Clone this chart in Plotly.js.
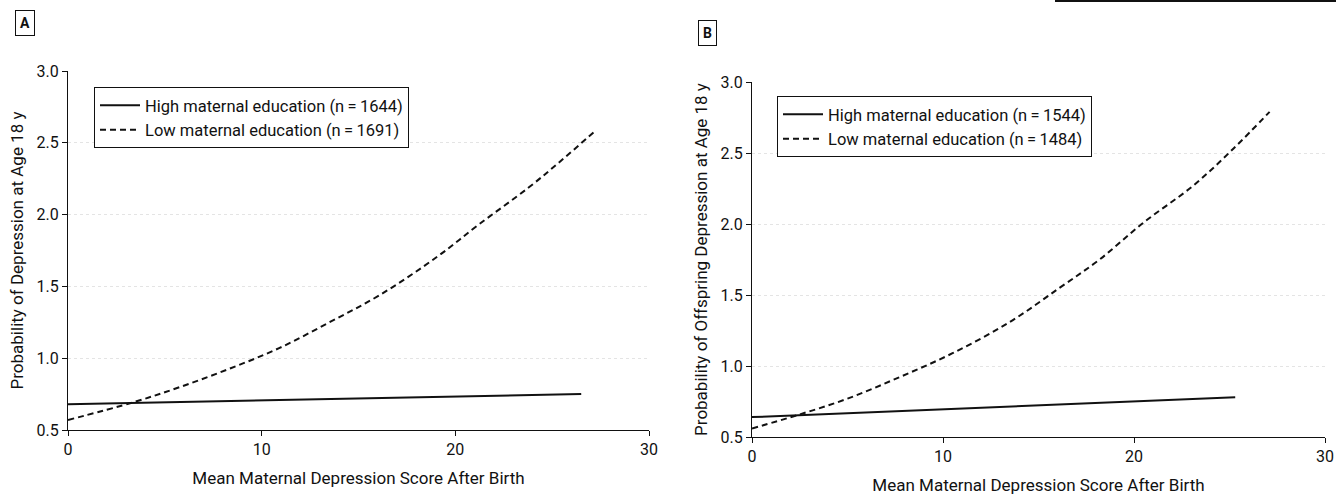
<!DOCTYPE html>
<html>
<head>
<meta charset="utf-8">
<script src="https://cdn.plot.ly/plotly-3.0.1.min.js"></script>
<style>html,body{margin:0;padding:0;background:#fff;}#chart{width:1336px;height:495px;}</style>
</head>
<body>
<div id="chart"></div>
<script>
// Panel A data
const aHighX = [0, 13, 26.5];
const aHighY = [0.68, 0.715, 0.75];
const aLowX = [0, 3.3, 5.8, 8.4, 10.9, 13.5, 16.1, 19.1, 21.2, 23.8, 25.5, 27.2];
const aLowY = [0.57, 0.69, 0.80, 0.93, 1.07, 1.25, 1.44, 1.71, 1.93, 2.19, 2.38, 2.58];
// Panel B data
const bHighX = [0, 12.5, 25.3];
const bHighY = [0.64, 0.71, 0.78];
const bLowX = [0, 2.4, 5.0, 7.7, 10.5, 13.5, 16.1, 18.2, 20.5, 23.1, 25.2, 27.1];
const bLowY = [0.56, 0.655, 0.77, 0.92, 1.09, 1.31, 1.55, 1.75, 2.01, 2.27, 2.53, 2.79];

const aHighName = 'High maternal education (n\u2009=\u20091644)';
const aLowName = 'Low maternal education (n\u2009=\u20091691)';
const bHighName = 'High maternal education (n\u2009=\u20091544)';
const bLowName = 'Low maternal education (n\u2009=\u20091484)';

const xTickVals = [0, 10, 20, 30];
const yTickVals = [0.5, 1.0, 1.5, 2.0, 2.5, 3.0];
const xTitle = 'Mean Maternal Depression Score After Birth';
const aYTitle = 'Probability of Depression at Age 18 y';
const bYTitle = 'Probability of Offspring Depression at Age 18 y';

const W = 1336, H = 495;
const FONT = 'Roboto, "Noto Sans", sans-serif';
const FS_TICK = 16, FS_LEG = 16.5, FS_TITLE = 17;
const solid = {color: '#111', width: 2};
const dashed = {color: '#111', width: 2, dash: '6px,4px'};

const traces = [
  {x: aHighX, y: aHighY, name: aHighName, mode: 'lines', line: solid, xaxis: 'x', yaxis: 'y', legend: 'legend'},
  {x: aLowX, y: aLowY, name: aLowName, mode: 'lines', line: Object.assign({shape: 'spline'}, dashed), xaxis: 'x', yaxis: 'y', legend: 'legend'},
  {x: bHighX, y: bHighY, name: bHighName, mode: 'lines', line: solid, xaxis: 'x2', yaxis: 'y2', legend: 'legend2'},
  {x: bLowX, y: bLowY, name: bLowName, mode: 'lines', line: Object.assign({shape: 'spline'}, dashed), xaxis: 'x2', yaxis: 'y2', legend: 'legend2'}
];

function xax(d0, d1, anchor, standoff) {
  return {
    domain: [d0 / W, d1 / W], range: [0, 30], anchor: anchor,
    tickvals: xTickVals, ticks: 'outside', ticklen: 5, tickwidth: 1, tickcolor: '#111',
    showline: true, linecolor: '#111', linewidth: 1, showgrid: false, zeroline: false,
    tickfont: {family: FONT, size: FS_TICK, color: '#111'},
    title: {text: xTitle, font: {family: FONT, size: FS_TITLE, color: '#111'}, standoff: standoff},
    fixedrange: true
  };
}
function yax(top, bottom, anchor, title) {
  return {
    domain: [(H - bottom) / H, (H - top) / H], range: [0.5, 3.0], anchor: anchor,
    tickvals: yTickVals, tickformat: '.1f', ticks: 'outside', ticklen: 5, tickwidth: 1, tickcolor: '#111',
    showline: true, linecolor: '#111', linewidth: 1, zeroline: false,
    showgrid: true, gridcolor: '#e4e4e4', griddash: 'dot', gridwidth: 1,
    tickfont: {family: FONT, size: FS_TICK, color: '#111'},
    title: {text: title, font: {family: FONT, size: FS_TITLE, color: '#111'}, standoff: 8},
    fixedrange: true
  };
}

const legendBase = {
  xanchor: 'left', yanchor: 'top', bgcolor: '#fff', bordercolor: '#111', borderwidth: 1,
  font: {family: FONT, size: FS_LEG, color: '#111'}, itemwidth: 40, tracegroupgap: 0
};

const layout = {
  width: W, height: H, margin: {l: 0, r: 0, t: 0, b: 0},
  paper_bgcolor: '#fff', plot_bgcolor: '#fff', showlegend: true,
  xaxis: xax(68, 649, 'y', 13),
  yaxis: yax(71, 430, 'x', aYTitle),
  xaxis2: xax(752, 1325, 'y2', 13),
  yaxis2: yax(82, 437, 'x2', bYTitle),
  legend: Object.assign({x: 94 / W, y: 1 - 87 / H}, legendBase),
  legend2: Object.assign({x: 777 / W, y: 1 - 96 / H}, legendBase),
  annotations: [
    {text: '<b>A</b>', xref: 'paper', yref: 'paper', x: 24.5 / W, y: 1 - 23 / H, xanchor: 'center', yanchor: 'middle', showarrow: false,
     font: {family: FONT, size: 14, color: '#111'}, bordercolor: '#111', borderwidth: 1, borderpad: 4, bgcolor: '#fff'},
    {text: '<b>B</b>', xref: 'paper', yref: 'paper', x: 707.5 / W, y: 1 - 33 / H, xanchor: 'center', yanchor: 'middle', showarrow: false,
     font: {family: FONT, size: 14, color: '#111'}, bordercolor: '#111', borderwidth: 1, borderpad: 4, bgcolor: '#fff'}
  ],
  shapes: [
    {type: 'rect', xref: 'paper', yref: 'paper', x0: 1055 / W, x1: 1, y0: 1 - 2 / H, y1: 1,
     fillcolor: '#111', line: {width: 0}, layer: 'above'}
  ]
};

Plotly.newPlot('chart', traces, layout, {displayModeBar: false, staticPlot: true});
</script>
</body>
</html>
